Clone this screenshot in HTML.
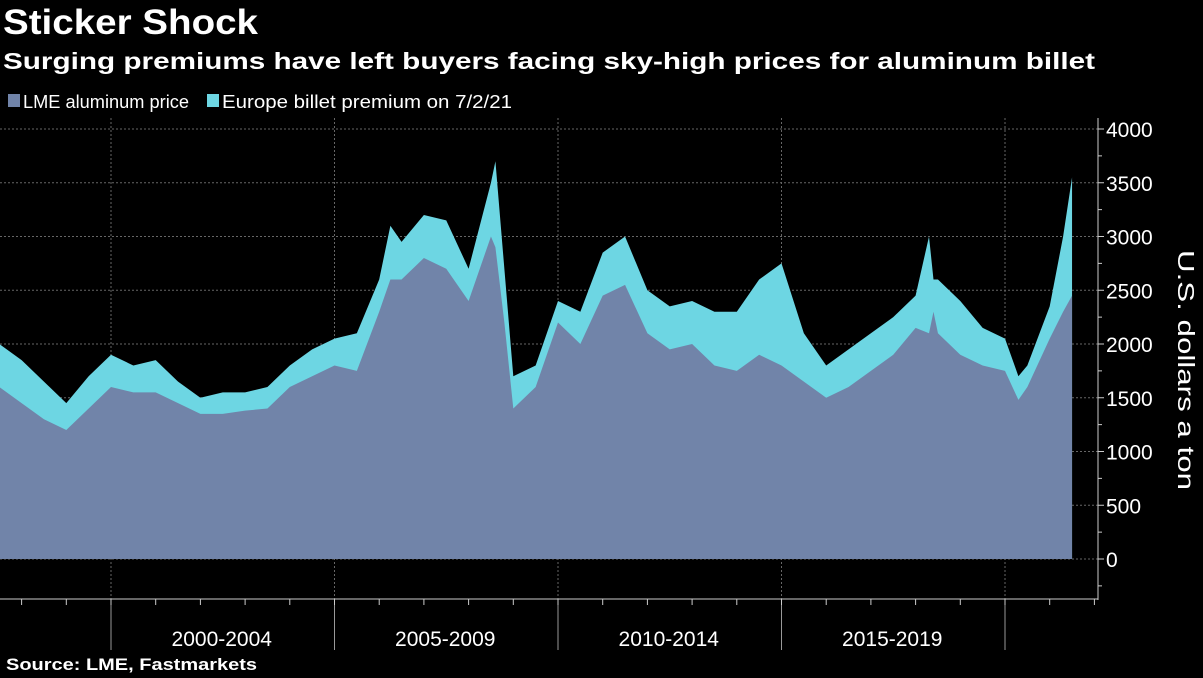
<!DOCTYPE html>
<html><head><meta charset="utf-8"><style>
body{margin:0;background:#000;width:1203px;height:678px;overflow:hidden;font-family:"Liberation Sans",sans-serif;color:#fff}
svg{position:absolute;left:0;top:0}
</style></head><body>
<svg id="chart" width="1203" height="678">
<text x="3" y="34" fill="#fff" font-size="35" font-weight="bold" textLength="255" lengthAdjust="spacingAndGlyphs">Sticker Shock</text>
<text x="3" y="69" fill="#fff" font-size="23" font-weight="bold" textLength="1092" lengthAdjust="spacingAndGlyphs">Surging premiums have left buyers facing sky-high prices for aluminum billet</text>
<text x="6" y="670" fill="#fff" font-size="17" font-weight="bold" textLength="251" lengthAdjust="spacingAndGlyphs">Source: LME, Fastmarkets</text>
</svg>
<script>
const dates=[1997.5,1998,1998.5,1999,1999.5,2000,2000.5,2001,2001.5,2002,2002.5,2003,2003.5,2004,2004.5,2005,2005.5,2006,2006.25,2006.5,2007,2007.5,2008,2008.5,2008.6,2008.8,2009,2009.5,2010,2010.5,2011,2011.5,2012,2012.5,2013,2013.5,2014,2014.5,2015,2015.5,2016,2016.5,2017,2017.5,2018,2018.3,2018.4,2018.5,2019,2019.5,2020,2020.3,2020.5,2021,2021.3,2021.5];
const lme=[1600,1450,1300,1200,1400,1600,1550,1550,1450,1350,1350,1380,1400,1600,1700,1800,1750,2300,2600,2600,2800,2700,2400,3000,2900,2200,1400,1600,2200,2000,2450,2550,2100,1950,2000,1800,1750,1900,1800,1650,1500,1600,1750,1900,2150,2100,2300,2100,1900,1800,1750,1480,1600,2050,2300,2450];
const total=[2000,1850,1650,1450,1700,1900,1800,1850,1650,1500,1550,1550,1600,1800,1950,2050,2100,2600,3100,2950,3200,3150,2700,3500,3700,2700,1700,1800,2400,2300,2850,3000,2500,2350,2400,2300,2300,2600,2750,2100,1800,1950,2100,2250,2450,3000,2600,2600,2400,2150,2050,1700,1800,2350,3000,3550];
const yTicks=[0,500,1000,1500,2000,2500,3000,3500,4000];
const periods=["2000-2004","2005-2009","2010-2014","2015-2019"];
const NS="http://www.w3.org/2000/svg",svg=document.getElementById('chart');
const X=d=>111+(d-2000)*44.7, Y=v=>559-v*0.1075;
function mk(t,a){const e=document.createElementNS(NS,t);for(const k in a)e.setAttribute(k,a[k]);svg.appendChild(e);return e;}
yTicks.forEach(v=>{const l=mk('line',{x1:0,x2:1098,y1:Y(v),y2:Y(v),stroke:'#666','stroke-dasharray':'2,2'});

});
[2000,2005,2010,2015,2020].forEach(d=>{const l=mk('line',{x1:X(d),x2:X(d),y1:118,y2:599,stroke:'#666','stroke-dasharray':'2,2'});


const t=mk('line',{x1:X(d),x2:X(d),y1:599,y2:650,stroke:'#999'});

});
function area(vals,fill,name){let p='M'+X(dates[0])+','+Y(0);vals.forEach((v,i)=>p+=' L'+X(dates[i])+','+Y(v));p+=' L'+X(dates[dates.length-1])+','+Y(0)+'Z';
const e=mk('path',{d:p,fill:fill});

}
area(total,'#6dd6e3','premium-area');
area(lme,'#7184a9','lme-area');
mk('line',{x1:1098,x2:1098,y1:118,y2:600,stroke:'#ccc'});
mk('line',{x1:0,x2:1098,y1:599,y2:599,stroke:'#ccc'});
for(let v=-250;v<=4000;v+=250){const t=mk('line',{x1:1098,x2:v%500===0?1104:1102,y1:Y(v),y2:Y(v),stroke:'#ccc'});

}
yTicks.forEach(v=>{const t=mk('text',{x:1106,y:Y(v)+8,fill:'#fff','font-size':21});t.textContent=v;

});
for(let d=1998;d<=2022;d++){const t=mk('line',{x1:X(d),x2:X(d),y1:599,y2:605,stroke:'#ccc'});

}
periods.forEach((p,i)=>{const t=mk('text',{x:X(2002.5+5*i)-1,y:646,fill:'#fff','font-size':21,'text-anchor':'middle'});t.textContent=p;

});
const yt=mk('text',{x:1178,y:370,fill:'#fff','font-size':23,'text-anchor':'middle',textLength:240,lengthAdjust:'spacingAndGlyphs',transform:'rotate(90 1178 370)'});yt.textContent='U.S. dollars a ton';


[['#7184a9','LME aluminum price',8,166],['#6dd6e3','Europe billet premium on 7/2/21',207,290]].forEach(([c,s,x,w])=>{
const r=mk('rect',{x:x,y:94,width:12,height:13,fill:c});


const t=mk('text',{x:x+15,y:108,fill:'#fff','font-size':18,textLength:w,lengthAdjust:'spacingAndGlyphs'});t.textContent=s;

});
</script>
</body></html>
